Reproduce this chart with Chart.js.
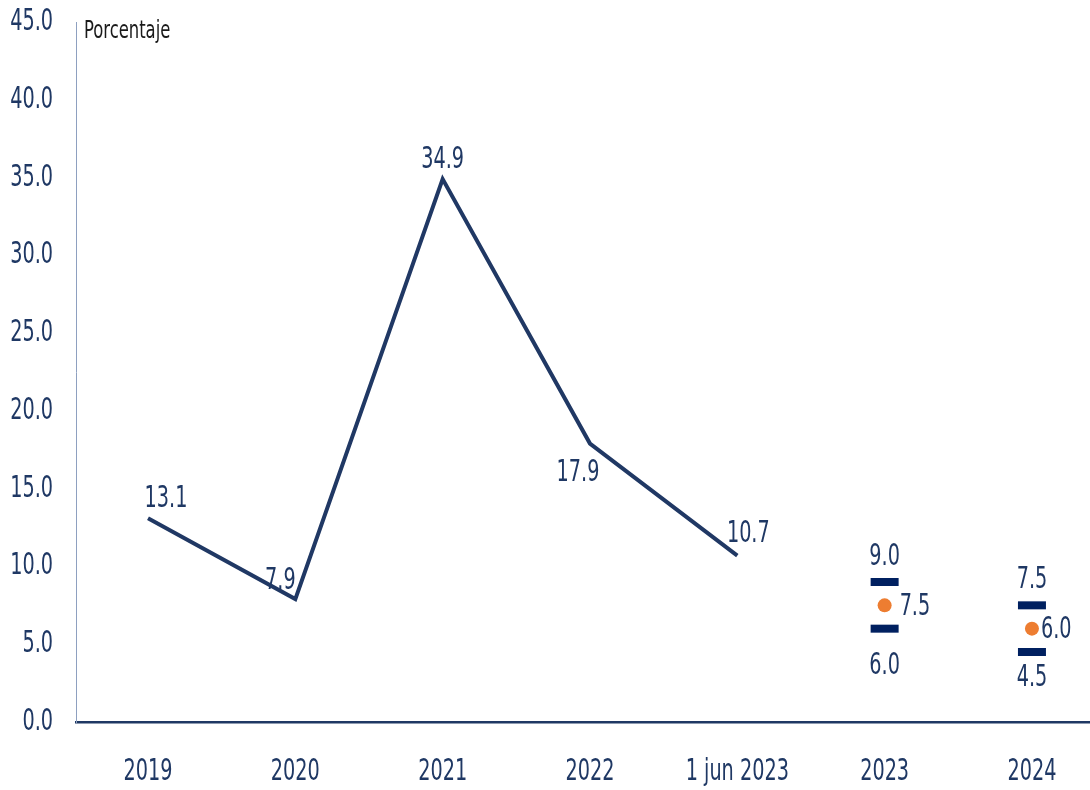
<!DOCTYPE html>
<html>
<head>
<meta charset="utf-8">
<script src="https://cdn.jsdelivr.net/npm/chart.js@4.4.0/dist/chart.umd.min.js"></script>
<style>
  html, body { margin: 0; padding: 0; background: #ffffff; overflow: hidden; }
  #wrap { width: 1090px; height: 790px; position: relative; }
</style>
</head>
<body>
<div id="wrap"><canvas id="c" width="1090" height="790"></canvas></div>
<script>
const categories = ['2019', '2020', '2021', '2022', '1 jun 2023', '2023', '2024'];
const observed = [13.1, 7.9, 34.9, 17.9, 10.7, null, null];
const rangeMax = [null, null, null, null, null, 9.0, 7.5];
const rangeMin = [null, null, null, null, null, 6.0, 4.5];
const central = [null, null, null, null, null, 7.5, 6.0];
const yTicks = [0, 5, 10, 15, 20, 25, 30, 35, 40, 45];

const FONT = '"Liberation Sans Narrow", "DejaVu Sans Condensed", "Arial Narrow", sans-serif';
const NAVY = '#1f3864';
const TEXT_SX = 0.69;

const toXY = arr => arr.map((v, i) => ({ x: i, y: v }));

// label offsets per dataset (dx, dy, align) for each point
const labelStyle = [
  [[18,-19,'center'],[-15,-18,'center'],[0,-19,'center'],[-12,29,'center'],[11,-22,'center'],null,null],
  [null,null,null,null,null,[0,-25,'center'],[0,-25,'center']],
  [null,null,null,null,null,[0,37,'center'],[0,26,'center']],
  [null,null,null,null,null,[15,2,'left'],[9,1,'left']]
];

// condensed text rendering (horizontal squeeze around the anchor point)
const condensedText = {
  id: 'condensedText',
  beforeInit(chart) {
    const ctx = chart.ctx;
    const orig = CanvasRenderingContext2D.prototype.fillText;
    ctx._sx = TEXT_SX;
    ctx.fillText = function (t, x, y) {
      this.save();
      this.translate(x, y);
      this.scale(this._sx, 1);
      orig.call(this, t, 0, 0);
      this.restore();
    };
  }
};

// let the plot area run to the right edge of the canvas
const fullWidth = {
  id: 'fullWidth',
  afterLayout(chart) {
    const x = chart.scales.x;
    x.right = chart.width;
    x.width = x.right - x.left;
    chart.chartArea.right = chart.width;
    chart.chartArea.width = chart.chartArea.right - chart.chartArea.left;
    x.configure();
  }
};

const labelPlugin = {
  id: 'valueLabels',
  afterDatasetsDraw(chart) {
    const ctx = chart.ctx;
    ctx.save();
    ctx.font = '31px ' + FONT;
    ctx.fillStyle = NAVY;
    ctx.textBaseline = 'middle';
    chart.data.datasets.forEach((ds, di) => {
      const meta = chart.getDatasetMeta(di);
      ds.data.forEach((p, i) => {
        const v = p.y;
        if (v === null || v === undefined) return;
        const st = labelStyle[di][i];
        if (!st) return;
        const el = meta.data[i];
        ctx.textAlign = st[2];
        ctx.fillText(v.toFixed(1), el.x + st[0], el.y + st[1]);
      });
    });
    ctx.restore();
  }
};

const titlePlugin = {
  id: 'unitTitle',
  afterDraw(chart) {
    const ctx = chart.ctx;
    ctx.save();
    const old = ctx._sx;
    ctx._sx = 0.73;
    ctx.font = '25px ' + FONT;
    ctx.fillStyle = '#1a1a1a';
    ctx.textAlign = 'left';
    ctx.textBaseline = 'middle';
    ctx.fillText('Porcentaje', chart.chartArea.left + 8, 31);
    ctx._sx = old;
    ctx.restore();
  }
};

new Chart(document.getElementById('c'), {
  type: 'line',
  data: {
    datasets: [
      { data: toXY(observed), borderColor: '#203864', borderWidth: 4, pointRadius: 0, tension: 0, spanGaps: false, order: 4 },
      { data: toXY(rangeMax), showLine: false, pointStyle: 'line', pointRadius: 14, pointBorderWidth: 8, borderColor: '#002060', backgroundColor: '#002060', order: 2 },
      { data: toXY(rangeMin), showLine: false, pointStyle: 'line', pointRadius: 14, pointBorderWidth: 8, borderColor: '#002060', backgroundColor: '#002060', order: 2 },
      { data: toXY(central), showLine: false, pointStyle: 'circle', pointRadius: 7, pointBorderWidth: 0, borderColor: '#ed7d31', backgroundColor: '#ed7d31', order: 1 }
    ]
  },
  options: {
    responsive: false,
    maintainAspectRatio: false,
    animation: false,
    devicePixelRatio: 1,
    layout: { padding: { top: 20, right: 0, left: 0, bottom: 0 } },
    plugins: { legend: { display: false }, tooltip: { enabled: false } },
    scales: {
      x: {
        type: 'linear',
        min: -0.4887,
        max: 6.394,
        afterBuildTicks(s) { s.ticks = categories.map((c, i) => ({ value: i })); },
        grid: { display: false, drawTicks: false },
        border: { display: true, color: NAVY, width: 2.5 },
        ticks: { color: NAVY, font: { family: FONT, size: 31 }, padding: 31, maxRotation: 0, autoSkip: false,
                 callback: v => categories[v] },
        afterFit(s) { s.height = 68; s.paddingLeft = 0; s.paddingRight = 0; }
      },
      y: {
        min: 0, max: 45,
        afterBuildTicks(s) { s.ticks = yTicks.map(v => ({ value: v })); },
        grid: { display: false, drawTicks: false },
        border: { display: true, color: '#8ea0c0', width: 1 },
        ticks: { color: NAVY, font: { family: FONT, size: 31 }, padding: 23, callback: v => Number(v).toFixed(1) },
        afterFit(s) { s.width = 76; s.paddingTop = 0; s.paddingBottom = 0; }
      }
    }
  },
  plugins: [condensedText, fullWidth, labelPlugin, titlePlugin]
});
</script>
</body>
</html>
